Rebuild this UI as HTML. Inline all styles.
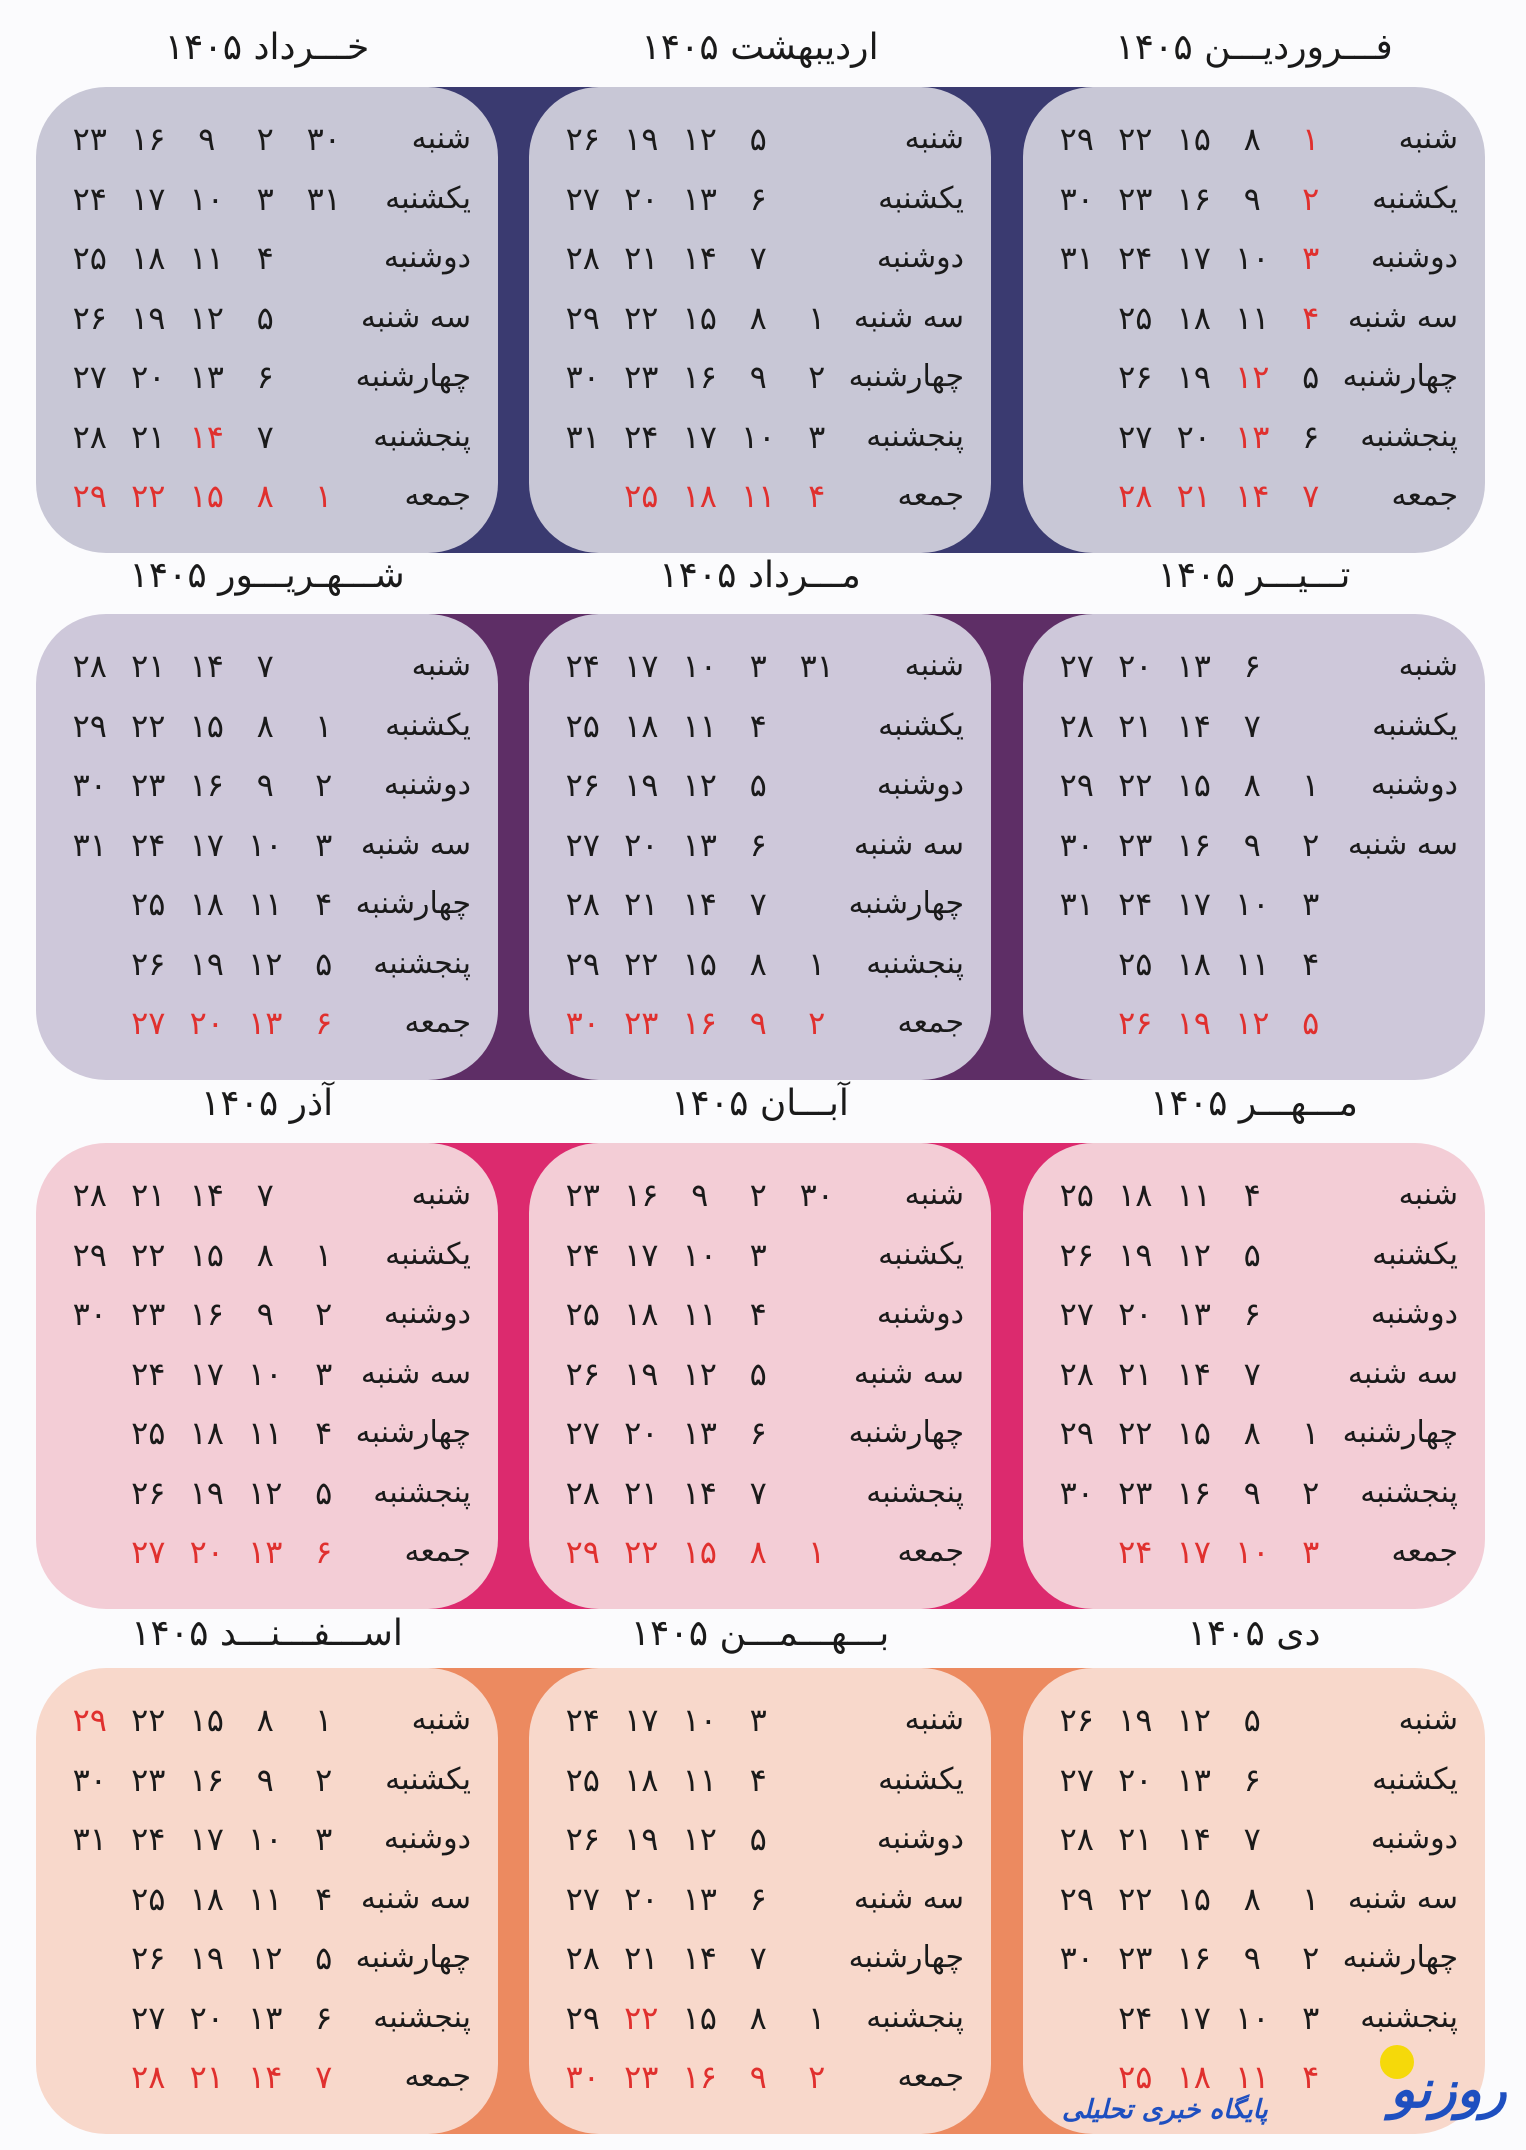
<!DOCTYPE html>
<html><head><meta charset="utf-8">
<style>
body{margin:0;width:1526px;height:2150px;background:#fbfbfd;position:relative;overflow:hidden;font-family:"DejaVu Sans","Liberation Sans",sans-serif;color:#1a1a1a}
.band{position:absolute;left:400px;width:720px;height:466px}
.card{position:absolute;width:462px;height:466px;border-radius:70px}
.t{position:absolute;width:462px;text-align:center;font-size:36px;direction:rtl;line-height:44px;color:#1a1a1a}
.w{position:absolute;right:0;left:0;height:40px;line-height:40px;direction:rtl;display:flex;padding-right:27px;font-size:32px}
.w b{font-weight:normal;width:118px;text-align:right;white-space:nowrap;font-size:30px}
.w i{font-style:normal;width:58.5px;text-align:center}
.w i.r{color:#e0302e}
.r0{top:32px}.r1{top:92px}.r2{top:151px}.r3{top:211px}.r4{top:270px}.r5{top:330px}.r6{top:389px}
.A{left:36px}.B{left:529px}.C{left:1023px}
.y1{top:87px}.y2{top:614px}.y3{top:1143px}.y4{top:1668px}
</style></head><body>
<div class="band y1" style="background:#3a3a70"></div>
<div class="band y2" style="background:#5e2e66"></div>
<div class="band y3" style="background:#dc2a6e"></div>
<div class="band y4" style="background:#ec8a60"></div>

<div class="t C" style="top:26px">فـــروردیـــن ۱۴۰۵</div>
<div class="t B" style="top:26px">اردیبهشت ۱۴۰۵</div>
<div class="t A" style="top:26px">خـــرداد ۱۴۰۵</div>
<div class="t C" style="top:554px">تـــیـــر ۱۴۰۵</div>
<div class="t B" style="top:554px">مـــرداد ۱۴۰۵</div>
<div class="t A" style="top:554px">شـــهـریـــور ۱۴۰۵</div>
<div class="t C" style="top:1082px">مـــهـــر ۱۴۰۵</div>
<div class="t B" style="top:1082px">آبـــان ۱۴۰۵</div>
<div class="t A" style="top:1082px">آذر ۱۴۰۵</div>
<div class="t C" style="top:1612px">دی ۱۴۰۵</div>
<div class="t B" style="top:1612px">بـــهـــمـــن ۱۴۰۵</div>
<div class="t A" style="top:1612px">اســـفـــنـــد ۱۴۰۵</div>

<!-- Farvardin -->
<div class="card C y1" style="background:#c8c7d6">
<div class="w r0"><b>شنبه</b><i class=r>۱</i><i>۸</i><i>۱۵</i><i>۲۲</i><i>۲۹</i></div>
<div class="w r1"><b>یکشنبه</b><i class=r>۲</i><i>۹</i><i>۱۶</i><i>۲۳</i><i>۳۰</i></div>
<div class="w r2"><b>دوشنبه</b><i class=r>۳</i><i>۱۰</i><i>۱۷</i><i>۲۴</i><i>۳۱</i></div>
<div class="w r3"><b>سه شنبه</b><i class=r>۴</i><i>۱۱</i><i>۱۸</i><i>۲۵</i><i></i></div>
<div class="w r4"><b>چهارشنبه</b><i>۵</i><i class=r>۱۲</i><i>۱۹</i><i>۲۶</i><i></i></div>
<div class="w r5"><b>پنجشنبه</b><i>۶</i><i class=r>۱۳</i><i>۲۰</i><i>۲۷</i><i></i></div>
<div class="w r6"><b>جمعه</b><i class=r>۷</i><i class=r>۱۴</i><i class=r>۲۱</i><i class=r>۲۸</i><i></i></div>
</div>
<!-- Ordibehesht -->
<div class="card B y1" style="background:#c8c7d6">
<div class="w r0"><b>شنبه</b><i></i><i>۵</i><i>۱۲</i><i>۱۹</i><i>۲۶</i></div>
<div class="w r1"><b>یکشنبه</b><i></i><i>۶</i><i>۱۳</i><i>۲۰</i><i>۲۷</i></div>
<div class="w r2"><b>دوشنبه</b><i></i><i>۷</i><i>۱۴</i><i>۲۱</i><i>۲۸</i></div>
<div class="w r3"><b>سه شنبه</b><i>۱</i><i>۸</i><i>۱۵</i><i>۲۲</i><i>۲۹</i></div>
<div class="w r4"><b>چهارشنبه</b><i>۲</i><i>۹</i><i>۱۶</i><i>۲۳</i><i>۳۰</i></div>
<div class="w r5"><b>پنجشنبه</b><i>۳</i><i>۱۰</i><i>۱۷</i><i>۲۴</i><i>۳۱</i></div>
<div class="w r6"><b>جمعه</b><i class=r>۴</i><i class=r>۱۱</i><i class=r>۱۸</i><i class=r>۲۵</i><i></i></div>
</div>
<!-- Khordad -->
<div class="card A y1" style="background:#c8c7d6">
<div class="w r0"><b>شنبه</b><i>۳۰</i><i>۲</i><i>۹</i><i>۱۶</i><i>۲۳</i></div>
<div class="w r1"><b>یکشنبه</b><i>۳۱</i><i>۳</i><i>۱۰</i><i>۱۷</i><i>۲۴</i></div>
<div class="w r2"><b>دوشنبه</b><i></i><i>۴</i><i>۱۱</i><i>۱۸</i><i>۲۵</i></div>
<div class="w r3"><b>سه شنبه</b><i></i><i>۵</i><i>۱۲</i><i>۱۹</i><i>۲۶</i></div>
<div class="w r4"><b>چهارشنبه</b><i></i><i>۶</i><i>۱۳</i><i>۲۰</i><i>۲۷</i></div>
<div class="w r5"><b>پنجشنبه</b><i></i><i>۷</i><i class=r>۱۴</i><i>۲۱</i><i>۲۸</i></div>
<div class="w r6"><b>جمعه</b><i class=r>۱</i><i class=r>۸</i><i class=r>۱۵</i><i class=r>۲۲</i><i class=r>۲۹</i></div>
</div>

<!-- Tir -->
<div class="card C y2" style="background:#cec8da">
<div class="w r0"><b>شنبه</b><i></i><i>۶</i><i>۱۳</i><i>۲۰</i><i>۲۷</i></div>
<div class="w r1"><b>یکشنبه</b><i></i><i>۷</i><i>۱۴</i><i>۲۱</i><i>۲۸</i></div>
<div class="w r2"><b>دوشنبه</b><i>۱</i><i>۸</i><i>۱۵</i><i>۲۲</i><i>۲۹</i></div>
<div class="w r3"><b>سه شنبه</b><i>۲</i><i>۹</i><i>۱۶</i><i>۲۳</i><i>۳۰</i></div>
<div class="w r4"><b></b><i>۳</i><i>۱۰</i><i>۱۷</i><i>۲۴</i><i>۳۱</i></div>
<div class="w r5"><b></b><i>۴</i><i>۱۱</i><i>۱۸</i><i>۲۵</i><i></i></div>
<div class="w r6"><b></b><i class=r>۵</i><i class=r>۱۲</i><i class=r>۱۹</i><i class=r>۲۶</i><i></i></div>
</div>
<!-- Mordad -->
<div class="card B y2" style="background:#cec8da">
<div class="w r0"><b>شنبه</b><i>۳۱</i><i>۳</i><i>۱۰</i><i>۱۷</i><i>۲۴</i></div>
<div class="w r1"><b>یکشنبه</b><i></i><i>۴</i><i>۱۱</i><i>۱۸</i><i>۲۵</i></div>
<div class="w r2"><b>دوشنبه</b><i></i><i>۵</i><i>۱۲</i><i>۱۹</i><i>۲۶</i></div>
<div class="w r3"><b>سه شنبه</b><i></i><i>۶</i><i>۱۳</i><i>۲۰</i><i>۲۷</i></div>
<div class="w r4"><b>چهارشنبه</b><i></i><i>۷</i><i>۱۴</i><i>۲۱</i><i>۲۸</i></div>
<div class="w r5"><b>پنجشنبه</b><i>۱</i><i>۸</i><i>۱۵</i><i>۲۲</i><i>۲۹</i></div>
<div class="w r6"><b>جمعه</b><i class=r>۲</i><i class=r>۹</i><i class=r>۱۶</i><i class=r>۲۳</i><i class=r>۳۰</i></div>
</div>
<!-- Shahrivar -->
<div class="card A y2" style="background:#cec8da">
<div class="w r0"><b>شنبه</b><i></i><i>۷</i><i>۱۴</i><i>۲۱</i><i>۲۸</i></div>
<div class="w r1"><b>یکشنبه</b><i>۱</i><i>۸</i><i>۱۵</i><i>۲۲</i><i>۲۹</i></div>
<div class="w r2"><b>دوشنبه</b><i>۲</i><i>۹</i><i>۱۶</i><i>۲۳</i><i>۳۰</i></div>
<div class="w r3"><b>سه شنبه</b><i>۳</i><i>۱۰</i><i>۱۷</i><i>۲۴</i><i>۳۱</i></div>
<div class="w r4"><b>چهارشنبه</b><i>۴</i><i>۱۱</i><i>۱۸</i><i>۲۵</i><i></i></div>
<div class="w r5"><b>پنجشنبه</b><i>۵</i><i>۱۲</i><i>۱۹</i><i>۲۶</i><i></i></div>
<div class="w r6"><b>جمعه</b><i class=r>۶</i><i class=r>۱۳</i><i class=r>۲۰</i><i class=r>۲۷</i><i></i></div>
</div>

<!-- Mehr -->
<div class="card C y3" style="background:#f3cdd6">
<div class="w r0"><b>شنبه</b><i></i><i>۴</i><i>۱۱</i><i>۱۸</i><i>۲۵</i></div>
<div class="w r1"><b>یکشنبه</b><i></i><i>۵</i><i>۱۲</i><i>۱۹</i><i>۲۶</i></div>
<div class="w r2"><b>دوشنبه</b><i></i><i>۶</i><i>۱۳</i><i>۲۰</i><i>۲۷</i></div>
<div class="w r3"><b>سه شنبه</b><i></i><i>۷</i><i>۱۴</i><i>۲۱</i><i>۲۸</i></div>
<div class="w r4"><b>چهارشنبه</b><i>۱</i><i>۸</i><i>۱۵</i><i>۲۲</i><i>۲۹</i></div>
<div class="w r5"><b>پنجشنبه</b><i>۲</i><i>۹</i><i>۱۶</i><i>۲۳</i><i>۳۰</i></div>
<div class="w r6"><b>جمعه</b><i class=r>۳</i><i class=r>۱۰</i><i class=r>۱۷</i><i class=r>۲۴</i><i></i></div>
</div>
<!-- Aban -->
<div class="card B y3" style="background:#f3cdd6">
<div class="w r0"><b>شنبه</b><i>۳۰</i><i>۲</i><i>۹</i><i>۱۶</i><i>۲۳</i></div>
<div class="w r1"><b>یکشنبه</b><i></i><i>۳</i><i>۱۰</i><i>۱۷</i><i>۲۴</i></div>
<div class="w r2"><b>دوشنبه</b><i></i><i>۴</i><i>۱۱</i><i>۱۸</i><i>۲۵</i></div>
<div class="w r3"><b>سه شنبه</b><i></i><i>۵</i><i>۱۲</i><i>۱۹</i><i>۲۶</i></div>
<div class="w r4"><b>چهارشنبه</b><i></i><i>۶</i><i>۱۳</i><i>۲۰</i><i>۲۷</i></div>
<div class="w r5"><b>پنجشنبه</b><i></i><i>۷</i><i>۱۴</i><i>۲۱</i><i>۲۸</i></div>
<div class="w r6"><b>جمعه</b><i class=r>۱</i><i class=r>۸</i><i class=r>۱۵</i><i class=r>۲۲</i><i class=r>۲۹</i></div>
</div>
<!-- Azar -->
<div class="card A y3" style="background:#f3cdd6">
<div class="w r0"><b>شنبه</b><i></i><i>۷</i><i>۱۴</i><i>۲۱</i><i>۲۸</i></div>
<div class="w r1"><b>یکشنبه</b><i>۱</i><i>۸</i><i>۱۵</i><i>۲۲</i><i>۲۹</i></div>
<div class="w r2"><b>دوشنبه</b><i>۲</i><i>۹</i><i>۱۶</i><i>۲۳</i><i>۳۰</i></div>
<div class="w r3"><b>سه شنبه</b><i>۳</i><i>۱۰</i><i>۱۷</i><i>۲۴</i><i></i></div>
<div class="w r4"><b>چهارشنبه</b><i>۴</i><i>۱۱</i><i>۱۸</i><i>۲۵</i><i></i></div>
<div class="w r5"><b>پنجشنبه</b><i>۵</i><i>۱۲</i><i>۱۹</i><i>۲۶</i><i></i></div>
<div class="w r6"><b>جمعه</b><i class=r>۶</i><i class=r>۱۳</i><i class=r>۲۰</i><i class=r>۲۷</i><i></i></div>
</div>

<!-- Dey -->
<div class="card C y4" style="background:#f8d8cb">
<div class="w r0"><b>شنبه</b><i></i><i>۵</i><i>۱۲</i><i>۱۹</i><i>۲۶</i></div>
<div class="w r1"><b>یکشنبه</b><i></i><i>۶</i><i>۱۳</i><i>۲۰</i><i>۲۷</i></div>
<div class="w r2"><b>دوشنبه</b><i></i><i>۷</i><i>۱۴</i><i>۲۱</i><i>۲۸</i></div>
<div class="w r3"><b>سه شنبه</b><i>۱</i><i>۸</i><i>۱۵</i><i>۲۲</i><i>۲۹</i></div>
<div class="w r4"><b>چهارشنبه</b><i>۲</i><i>۹</i><i>۱۶</i><i>۲۳</i><i>۳۰</i></div>
<div class="w r5"><b>پنجشنبه</b><i>۳</i><i>۱۰</i><i>۱۷</i><i>۲۴</i><i></i></div>
<div class="w r6"><b></b><i class=r>۴</i><i class=r>۱۱</i><i class=r>۱۸</i><i class=r>۲۵</i><i></i></div>
</div>
<!-- Bahman -->
<div class="card B y4" style="background:#f8d8cb">
<div class="w r0"><b>شنبه</b><i></i><i>۳</i><i>۱۰</i><i>۱۷</i><i>۲۴</i></div>
<div class="w r1"><b>یکشنبه</b><i></i><i>۴</i><i>۱۱</i><i>۱۸</i><i>۲۵</i></div>
<div class="w r2"><b>دوشنبه</b><i></i><i>۵</i><i>۱۲</i><i>۱۹</i><i>۲۶</i></div>
<div class="w r3"><b>سه شنبه</b><i></i><i>۶</i><i>۱۳</i><i>۲۰</i><i>۲۷</i></div>
<div class="w r4"><b>چهارشنبه</b><i></i><i>۷</i><i>۱۴</i><i>۲۱</i><i>۲۸</i></div>
<div class="w r5"><b>پنجشنبه</b><i>۱</i><i>۸</i><i>۱۵</i><i class=r>۲۲</i><i>۲۹</i></div>
<div class="w r6"><b>جمعه</b><i class=r>۲</i><i class=r>۹</i><i class=r>۱۶</i><i class=r>۲۳</i><i class=r>۳۰</i></div>
</div>
<!-- Esfand -->
<div class="card A y4" style="background:#f8d8cb">
<div class="w r0"><b>شنبه</b><i>۱</i><i>۸</i><i>۱۵</i><i>۲۲</i><i class=r>۲۹</i></div>
<div class="w r1"><b>یکشنبه</b><i>۲</i><i>۹</i><i>۱۶</i><i>۲۳</i><i>۳۰</i></div>
<div class="w r2"><b>دوشنبه</b><i>۳</i><i>۱۰</i><i>۱۷</i><i>۲۴</i><i>۳۱</i></div>
<div class="w r3"><b>سه شنبه</b><i>۴</i><i>۱۱</i><i>۱۸</i><i>۲۵</i><i></i></div>
<div class="w r4"><b>چهارشنبه</b><i>۵</i><i>۱۲</i><i>۱۹</i><i>۲۶</i><i></i></div>
<div class="w r5"><b>پنجشنبه</b><i>۶</i><i>۱۳</i><i>۲۰</i><i>۲۷</i><i></i></div>
<div class="w r6"><b>جمعه</b><i class=r>۷</i><i class=r>۱۴</i><i class=r>۲۱</i><i class=r>۲۸</i><i></i></div>
</div>

<!-- logo -->
<div style="position:absolute;left:1380px;top:2045px;width:34px;height:34px;border-radius:50%;background:#f5d90a"></div>
<div style="position:absolute;left:1390px;top:2060px;font-size:52px;font-weight:bold;color:#1e4fc0;font-style:italic;direction:rtl">روزنو</div>
<div style="position:absolute;left:1062px;top:2095px;font-size:26px;font-weight:bold;color:#1e4fc0;direction:rtl;font-style:italic">پایگاه خبری تحلیلی</div>
</body></html>
